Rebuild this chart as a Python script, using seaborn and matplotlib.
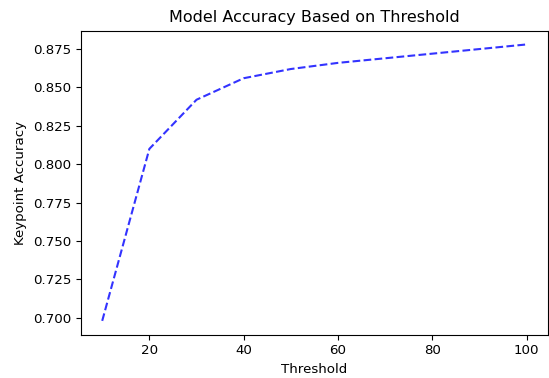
import matplotlib
matplotlib.use("Agg")
import matplotlib.pyplot as plt
import seaborn as sns
import pandas as pd

# valori
thresholds = [10, 20, 30, 40, 50, 60, 70, 80, 90, 100]
accuracy = [0.698, 0.810, 0.842, 0.856, 0.862, 0.866, 0.869, 0.872, 0.875, 0.878]

df = pd.DataFrame({"Threshold": thresholds, "Keypoint Accuracy": accuracy})

plt.rcParams["font.size"] = 9.6
fig, ax = plt.subplots(figsize=(5.49, 3.78), dpi=100)
sns.lineplot(data=df, x="Threshold", y="Keypoint Accuracy", color="blue",
             linestyle="--", alpha=0.8, linewidth=1.5, ax=ax)
ax.set_title("Model Accuracy Based on Threshold", fontsize=11.5)
ax.set_xlabel("Threshold")
ax.set_ylabel("Keypoint Accuracy")
ax.set_yticks([0.700, 0.725, 0.750, 0.775, 0.800, 0.825, 0.850, 0.875])
fig.subplots_adjust(left=0.1475, right=0.998, top=0.919, bottom=0.1146)
fig.savefig("out.png", dpi=100)
